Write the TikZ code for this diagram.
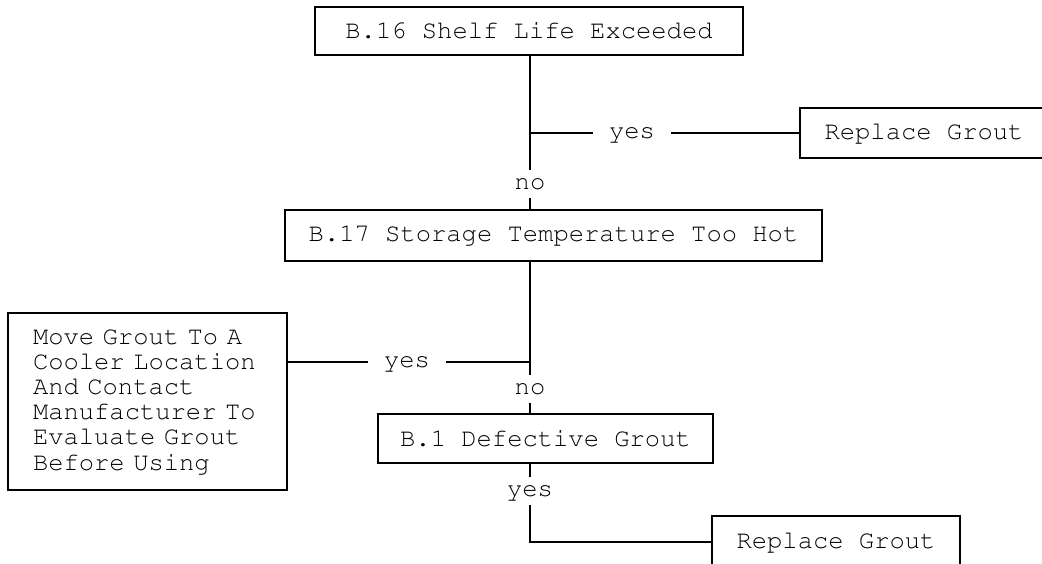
\documentclass[tikz,border=0pt]{standalone}
\usepackage[T1]{fontenc}
\usepackage{courier}
\begin{document}
\begin{tikzpicture}[x=1pt,y=-1pt,
  every node/.style={font=\ttfamily\fontsize{25.5}{25.2}\selectfont},
  box/.style={draw,line width=1.3pt,rectangle,inner sep=0pt},
  lbl/.style={inner sep=0pt,text height=11pt,text depth=0pt},
  vlbl/.style={lbl,inner ysep=8.5pt},
  hlbl/.style={lbl,inner xsep=16pt},
  mainline/.style={line width=2.2pt},
  conn/.style={line width=1.3pt}]
\useasboundingbox (0,0) rectangle (1042,564);
% boxes
\node[box,minimum width=428pt,minimum height=48pt] (b16) at (529,31) {B.16 Shelf Life Exceeded};
\node[box,minimum width=537pt,minimum height=51pt] (b17) at (553.5,235.5) {B.17 Storage Temperature Too Hot};
\node[box,minimum width=335pt,minimum height=49pt] (b1) at (545.5,438.5) {B.1 Defective Grout};
\node[box,minimum width=248pt,minimum height=50pt] (rg1) at (924,133) {Replace Grout};
\node[box,minimum width=248pt,minimum height=52pt] (rg2) at (836,542) {Replace Grout};
\node[box,minimum width=279pt,minimum height=177pt,inner xsep=25pt,text width=229pt,align=left] (mv) at (147.5,401.5)
  {Move Grout To A\\Cooler Location\\And Contact\\Manufacturer To\\Evaluate Grout\\Before Using};
% labels
\node[vlbl] (no1) at (530,184) {no};
\node[vlbl] (no2) at (530,389) {no};
\node[vlbl] (yes3) at (530,491) {yes};
\node[hlbl] (yes1) at (632,133) {yes};
\node[hlbl] (yes2) at (407,362) {yes};
% junctions
\coordinate (j1) at (530,133);
\coordinate (j2) at (530,362);
\coordinate (j3) at (530,542);
% connectors
\draw[mainline] (b16.south -| no1) -- (no1);
\draw[mainline] (no1) -- (b17.north -| no1);
\draw[conn] (j1) -- (yes1);
\draw[conn] (yes1) -- (rg1.west);
\draw[mainline] (b17.south -| no2) -- (no2);
\draw[mainline] (no2) -- (b1.north -| no2);
\draw[conn] (j2) -- (yes2);
\draw[conn] (yes2) -- (mv.east |- yes2);
\draw[conn] (b1.south -| yes3) -- (yes3);
\draw[conn] (yes3) -- (j3) -- (rg2.west);
\end{tikzpicture}
\end{document}
